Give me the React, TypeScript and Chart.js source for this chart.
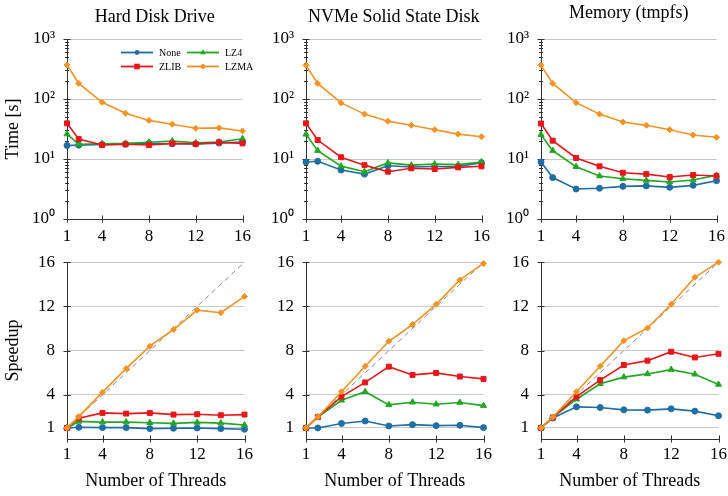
import React, { useEffect, useRef } from 'react';
import { Chart, registerables } from 'chart.js';

Chart.register(...registerables);

// ---- data -------------------------------------------------------------
const threads = [1, 2, 4, 6, 8, 10, 12, 14, 16];
const threadTicks = [1, 4, 8, 12, 16];
const timeTicks = [1, 10, 100, 1000];
const timeTickLabels = ['10⁰', '10¹', '10²', '10³'];
const speedupTicks = [1, 4, 8, 12, 16];
const idealThreads = [1, 16];
const idealSpeedup = [1, 16];

const seriesNames = ['None', 'LZ4', 'ZLIB', 'LZMA'];
const panelTitles = ['Hard Disk Drive', 'NVMe Solid State Disk', 'Memory (tmpfs)'];

// Hard disk drive: run time [s]
const hddTimeNone = [16.8, 17.0, 17.4, 17.6, 18.2, 18.0, 17.8, 18.4, 19.2];
const hddTimeLz4 = [26, 17.6, 18, 18.2, 19, 20, 18.6, 19.2, 21.8];
const hddTimeZlib = [39.3, 21.5, 17.1, 17.6, 17.1, 18.2, 17.8, 19.0, 18.2];
const hddTimeLzma = [369, 182, 88, 58, 44, 38, 32.5, 33, 29.3];
// Hard disk drive: speedup
const hddSpeedNone = [1, 1.06, 1.03, 1.03, 0.94, 0.97, 1.0, 0.94, 0.88];
const hddSpeedLz4 = [1, 1.59, 1.53, 1.53, 1.47, 1.41, 1.5, 1.44, 1.27];
const hddSpeedZlib = [1, 1.89, 2.36, 2.3, 2.36, 2.21, 2.24, 2.15, 2.21];
const hddSpeedLzma = [1, 2.03, 4.24, 6.37, 8.4, 9.91, 11.66, 11.43, 12.9];

// NVMe SSD: run time [s]
const nvmeTimeNone = [8.9, 9.15, 6.55, 5.6, 7.7, 7.35, 7.5, 7.5, 8.7];
const nvmeTimeLz4 = [25.8, 13.8, 7.6, 6.15, 8.6, 7.9, 8.25, 8.05, 8.9];
const nvmeTimeZlib = [39.3, 20.7, 10.7, 7.9, 6.15, 7.0, 6.8, 7.26, 7.55];
const nvmeTimeLzma = [364, 182, 86, 56, 42.5, 36.4, 30.8, 26, 23.5];
// NVMe SSD: speedup
const nvmeSpeedNone = [1, 1.0, 1.41, 1.63, 1.18, 1.3, 1.21, 1.24, 1.03];
const nvmeSpeedLz4 = [1, 1.98, 3.5, 4.28, 3.09, 3.33, 3.15, 3.3, 3.02];
const nvmeSpeedZlib = [1, 1.98, 3.83, 5.12, 6.55, 5.8, 5.98, 5.65, 5.44];
const nvmeSpeedLzma = [1, 1.98, 4.28, 6.58, 8.84, 10.36, 12.19, 14.4, 15.89];

// Memory (tmpfs): run time [s]
const memTimeNone = [8.9, 4.9, 3.16, 3.25, 3.5, 3.56, 3.37, 3.64, 4.35];
const memTimeLz4 = [25.4, 13.8, 7.45, 5.2, 4.7, 4.4, 4.14, 4.47, 5.35];
const memTimeZlib = [39, 20.2, 10.4, 7.55, 5.9, 5.6, 5.0, 5.4, 5.2];
const memTimeLzma = [364, 182, 87, 56, 41.4, 36.4, 30.8, 25.1, 23];
// Memory (tmpfs): speedup
const memSpeedNone = [1, 1.9, 2.91, 2.85, 2.64, 2.61, 2.73, 2.52, 2.1];
const memSpeedLz4 = [1, 1.95, 3.6, 5.0, 5.6, 5.89, 6.28, 5.86, 4.94];
const memSpeedZlib = [1, 1.95, 3.83, 5.33, 6.7, 7.09, 7.9, 7.38, 7.71];
const memSpeedLzma = [1, 1.98, 4.28, 6.58, 8.9, 10.04, 12.19, 14.63, 16.0];

// ---- styling ----------------------------------------------------------
const SERIF = "'Liberation Serif', 'Times New Roman', Times, serif";
const SERIES_STYLE: Record<string, { color: string; point: string; radius: number }> = {
  None: { color: '#1f6fa5', point: 'circle', radius: 3 },
  LZ4: { color: '#22a623', point: 'triangle', radius: 3.5 },
  ZLIB: { color: '#e8161b', point: 'rect', radius: 3.5 },
  LZMA: { color: '#f39325', point: 'rectRot', radius: 3 },
};
const AXIS_COLOR = '#333333';
const GRID_COLOR = '#c8c8c8';

const COL_PLOT_LEFT = [67, 306, 541];
const PLOT_W = 179;
const Y_AXIS_W = 67;
const RIGHT_PAD = 12;
const ROWS = [
  { top: 0, height: 250, padTop: 39, xAxisH: 31, tickPad: 7 },
  { top: 240, height: 256, padTop: 20, xAxisH: 57, tickPad: 5 },
];
const TITLE_BASELINE = [22, 21.5, 17.5];

// ---- plugins ----------------------------------------------------------
const panelTitlePlugin = {
  id: 'panelTitle',
  afterDraw(chart: any, _args: any, opts: any) {
    if (!opts || !opts.text) return;
    const { ctx, chartArea } = chart;
    ctx.save();
    ctx.font = `18px ${SERIF}`;
    ctx.fillStyle = '#000';
    ctx.textAlign = 'center';
    ctx.textBaseline = 'alphabetic';
    ctx.fillText(opts.text, (chartArea.left + chartArea.right) / 2, opts.baseline);
    ctx.restore();
  },
};

// Tick marks straddling the axis lines (plus minor marks on log axes)
const axisMarksPlugin = {
  id: 'axisMarks',
  beforeDatasetsDraw(chart: any, _args: any, opts: any) {
    const { ctx, chartArea, scales } = chart;
    const xs = scales.x;
    const ys = scales.y;
    ctx.save();
    ctx.strokeStyle = AXIS_COLOR;
    ctx.lineWidth = 1;
    ctx.beginPath();
    for (const t of xs.ticks) {
      const px = Math.round(xs.getPixelForValue(t.value)) + 0.5;
      ctx.moveTo(px, chartArea.bottom - 3.5);
      ctx.lineTo(px, chartArea.bottom + 3.5);
    }
    for (const t of ys.ticks) {
      const py = Math.round(ys.getPixelForValue(t.value)) + 0.5;
      ctx.moveTo(chartArea.left - 3.5, py);
      ctx.lineTo(chartArea.left + 3.5, py);
    }
    if (opts && opts.logMinor) {
      for (let d = 1; d < 1000; d *= 10) {
        for (let m = 2; m <= 9; m++) {
          const py = Math.round(ys.getPixelForValue(m * d)) + 0.5;
          ctx.moveTo(chartArea.left - 2, py);
          ctx.lineTo(chartArea.left + 2, py);
        }
      }
    }
    ctx.stroke();
    ctx.restore();
  },
};

function drawMarker(ctx: CanvasRenderingContext2D, style: string, x: number, y: number, r: number) {
  ctx.beginPath();
  if (style === 'circle') {
    ctx.arc(x, y, r, 0, Math.PI * 2);
  } else if (style === 'rect') {
    ctx.rect(x - r, y - r, 2 * r, 2 * r);
  } else if (style === 'triangle') {
    ctx.moveTo(x, y - r * 1.15);
    ctx.lineTo(x + r, y + r * 0.6);
    ctx.lineTo(x - r, y + r * 0.6);
    ctx.closePath();
  } else {
    ctx.moveTo(x, y - r * 1.3);
    ctx.lineTo(x + r * 1.3, y);
    ctx.lineTo(x, y + r * 1.3);
    ctx.lineTo(x - r * 1.3, y);
    ctx.closePath();
  }
  ctx.fill();
}

// Two-column legend placed inside the plot area
const insideLegendPlugin = {
  id: 'insideLegend',
  afterDatasetsDraw(chart: any, _args: any, opts: any) {
    if (!opts || !opts.show) return;
    const { ctx, chartArea } = chart;
    const cols = [54, 120];
    const rows = [13.5, 27.5];
    const lineLen = 32;
    ctx.save();
    ctx.font = `10px ${SERIF}`;
    ctx.textBaseline = 'middle';
    ctx.textAlign = 'left';
    seriesNames.forEach((name, i) => {
      const st = SERIES_STYLE[name];
      const x0 = chartArea.left + cols[i % 2];
      const y0 = chartArea.top + rows[Math.floor(i / 2)];
      ctx.strokeStyle = st.color;
      ctx.fillStyle = st.color;
      ctx.lineWidth = 1.8;
      ctx.beginPath();
      ctx.moveTo(x0, y0);
      ctx.lineTo(x0 + lineLen, y0);
      ctx.stroke();
      drawMarker(ctx, st.point, x0 + lineLen / 2, y0, st.radius * 0.8);
      ctx.fillStyle = '#000';
      ctx.fillText(name, x0 + lineLen + 6, y0 + 0.5);
    });
    ctx.restore();
  },
};

// ---- panels -----------------------------------------------------------
type PanelSpec = {
  row: number;
  col: number;
  series: number[][]; // None, LZ4, ZLIB, LZMA
};

const panels: PanelSpec[] = [
  { row: 0, col: 0, series: [hddTimeNone, hddTimeLz4, hddTimeZlib, hddTimeLzma] },
  { row: 0, col: 1, series: [nvmeTimeNone, nvmeTimeLz4, nvmeTimeZlib, nvmeTimeLzma] },
  { row: 0, col: 2, series: [memTimeNone, memTimeLz4, memTimeZlib, memTimeLzma] },
  { row: 1, col: 0, series: [hddSpeedNone, hddSpeedLz4, hddSpeedZlib, hddSpeedLzma] },
  { row: 1, col: 1, series: [nvmeSpeedNone, nvmeSpeedLz4, nvmeSpeedZlib, nvmeSpeedLzma] },
  { row: 1, col: 2, series: [memSpeedNone, memSpeedLz4, memSpeedZlib, memSpeedLzma] },
];

function buildConfig(p: PanelSpec): any {
  const isTime = p.row === 0;
  const rowInfo = ROWS[p.row];
  const tickFont = { family: SERIF, size: 17 };
  const titleFont = { family: SERIF, size: 18 };

  const seriesSets = seriesNames.map((name, i) => {
    const st = SERIES_STYLE[name];
    return {
      label: name,
      data: threads.map((t, k) => ({ x: t, y: p.series[i][k] })),
      borderColor: st.color,
      backgroundColor: st.color,
      borderWidth: 1.6,
      pointStyle: st.point,
      pointRadius: st.radius,
      pointBorderWidth: 1,
      pointBorderColor: st.color,
      pointBackgroundColor: st.color,
      tension: 0,
      fill: false,
      clip: false,
    };
  });
  // first dataset is painted last, so LZMA goes first to sit on top
  const datasets: any[] = seriesSets.slice().reverse();
  if (!isTime) {
    datasets.push({
      label: 'ideal',
      data: idealThreads.map((t, k) => ({ x: t, y: idealSpeedup[k] })),
      borderColor: '#8a8a8a',
      borderWidth: 1,
      borderDash: [5, 4],
      pointRadius: 0,
      fill: false,
      clip: false,
    });
  }

  const yTicks = isTime ? timeTicks : speedupTicks;

  return {
    type: 'line',
    data: { datasets },
    plugins: [panelTitlePlugin, axisMarksPlugin, insideLegendPlugin],
    options: {
      animation: false,
      responsive: false,
      devicePixelRatio: 1,
      events: [],
      layout: { padding: { top: rowInfo.padTop, right: RIGHT_PAD, left: 0, bottom: 0 } },
      scales: {
        x: {
          type: 'linear',
          min: 1,
          max: 16,
          afterBuildTicks: (s: any) => {
            s.ticks = threadTicks.map((v) => ({ value: v }));
          },
          afterFit: (s: any) => {
            s.height = rowInfo.xAxisH;
          },
          ticks: {
            font: tickFont,
            color: '#000',
            padding: rowInfo.tickPad,
            maxRotation: 0,
            autoSkip: false,
            callback: (v: any) => String(v),
          },
          grid: { display: false, drawTicks: false },
          border: { display: true, color: AXIS_COLOR, width: 1 },
          title: {
            display: !isTime,
            text: 'Number of Threads',
            font: titleFont,
            color: '#000',
            padding: { top: 0, bottom: 4 },
          },
        },
        y: {
          type: isTime ? 'logarithmic' : 'linear',
          min: isTime ? 1 : 0,
          max: isTime ? 1000 : 16,
          afterBuildTicks: (s: any) => {
            s.ticks = yTicks.map((v) => ({ value: v }));
          },
          afterFit: (s: any) => {
            s.width = Y_AXIS_W;
          },
          ticks: {
            font: tickFont,
            color: '#000',
            padding: 12,
            autoSkip: false,
            callback: (v: any) => {
              if (!isTime) return String(v);
              const idx = timeTicks.indexOf(Number(v));
              return idx >= 0 ? timeTickLabels[idx] : '';
            },
          },
          grid: { color: GRID_COLOR, lineWidth: 1, drawTicks: false },
          border: { display: true, color: AXIS_COLOR, width: 1 },
          title: {
            display: p.col === 0,
            text: isTime ? 'Time [s]' : 'Speedup',
            font: titleFont,
            color: '#000',
            padding: { top: 2, bottom: 0 },
          },
        },
      },
      plugins: {
        legend: { display: false },
        tooltip: { enabled: false },
        panelTitle: isTime ? { text: panelTitles[p.col], baseline: TITLE_BASELINE[p.col] } : { text: '' },
        axisMarks: { logMinor: isTime },
        insideLegend: { show: isTime && p.col === 0 },
      },
    },
  };
}

function Panel({ spec }: { spec: PanelSpec }) {
  const ref = useRef<HTMLCanvasElement>(null);
  const rowInfo = ROWS[spec.row];
  const left = COL_PLOT_LEFT[spec.col] - Y_AXIS_W;
  const width = Y_AXIS_W + PLOT_W + RIGHT_PAD;
  const height = rowInfo.height;

  useEffect(() => {
    if (!ref.current) return;
    const chart = new Chart(ref.current, buildConfig(spec));
    return () => chart.destroy();
  }, [spec]);

  return (
    <canvas
      ref={ref}
      width={width}
      height={height}
      style={{ position: 'absolute', left, top: rowInfo.top, width, height }}
    />
  );
}

export default function App() {
  return (
    <div
      style={{
        position: 'absolute',
        left: 0,
        top: 0,
        width: 728,
        height: 496,
        background: '#ffffff',
        overflow: 'hidden',
      }}
    >
      {panels.map((p) => (
        <Panel key={`${p.row}-${p.col}`} spec={p} />
      ))}
    </div>
  );
}
